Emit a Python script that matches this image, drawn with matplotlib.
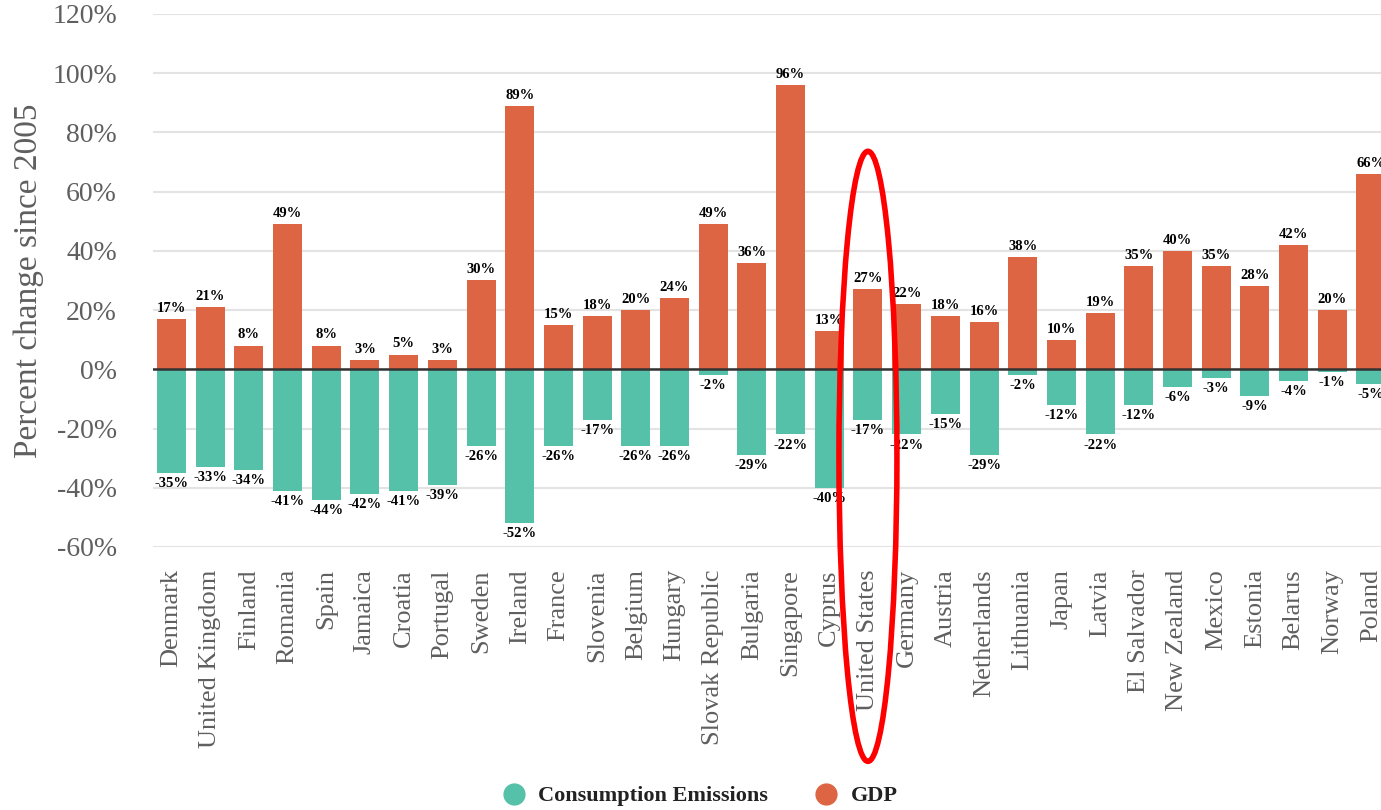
import matplotlib
matplotlib.use("Agg")
import matplotlib.pyplot as plt
from matplotlib.patches import Ellipse
from matplotlib.lines import Line2D

countries = ["Denmark", "United Kingdom", "Finland", "Romania", "Spain", "Jamaica",
             "Croatia", "Portugal", "Sweden", "Ireland", "France", "Slovenia",
             "Belgium", "Hungary", "Slovak Republic", "Bulgaria", "Singapore",
             "Cyprus", "United States", "Germany", "Austria", "Netherlands",
             "Lithuania", "Japan", "Latvia", "El Salvador", "New Zealand",
             "Mexico", "Estonia", "Belarus", "Norway", "Poland"]
gdp = [17, 21, 8, 49, 8, 3, 5, 3, 30, 89, 15, 18, 20, 24, 49, 36, 96, 13, 27, 22,
       18, 16, 38, 10, 19, 35, 40, 35, 28, 42, 20, 66]
emissions = [-35, -33, -34, -41, -44, -42, -41, -39, -26, -52, -26, -17, -26, -26,
             -2, -29, -22, -40, -17, -22, -15, -29, -2, -12, -22, -12, -6, -3, -9,
             -4, -1, -5]
yticks = [-60, -40, -20, 0, 20, 40, 60, 80, 100, 120]

GDP_COLOR = "#DD6543"
EM_COLOR = "#55C1A9"
GRAY = "#5f5f5f"

plt.rcParams["font.family"] = ["Liberation Serif", "DejaVu Serif"]

fig = plt.figure(figsize=(13.81, 8.10), dpi=100)
ax = fig.add_axes([153 / 1381, 1 - 547 / 810, 1 - 153 / 1381, (547 - 14) / 810])

x = list(range(len(countries)))
ax.bar(x, gdp, width=0.75, color=GDP_COLOR, zorder=2)
ax.bar(x, emissions, width=0.75, color=EM_COLOR, zorder=2)

for i in x:
    ax.annotate(f"{gdp[i]}%", (i, gdp[i]), xytext=(0, 3), textcoords="offset points",
                ha="center", va="bottom", fontsize=10.5, fontweight="bold", zorder=4)
    ax.annotate(f"{emissions[i]}%", (i, emissions[i]), xytext=(0, -3),
                textcoords="offset points", ha="center", va="top", fontsize=10.5,
                fontweight="bold", zorder=4)

ax.axhline(0, color="#333333", lw=1.8, zorder=3)
ax.set_xlim(-0.478, 31.26)
ax.set_ylim(-60, 120)
ax.set_yticks(yticks)
ax.set_yticklabels([f"{v}%" for v in yticks])
ax.yaxis.grid(True, color="#e3e3e3", lw=1.5, zorder=0)
ax.set_axisbelow(True)
ax.set_xticks(x)
ax.set_xticklabels(countries, rotation=90)
ax.tick_params(axis="y", length=0, pad=26, labelsize=20, labelcolor=GRAY)
ax.tick_params(axis="x", length=0, pad=16, labelsize=19, labelcolor=GRAY)
for s in ax.spines.values():
    s.set_visible(False)
ax.set_ylabel("Percent change since 2005", fontsize=24, color=GRAY, labelpad=6)

# highlight the United States column
us = countries.index("United States")
ppy = (547 - 14) / 180.0
ell = Ellipse((us, (369 - 456) / ppy), width=58 / 38.7, height=610 / ppy,
              fill=False, edgecolor="#ff0000", lw=4, clip_on=False, zorder=5)
ax.add_patch(ell)

handles = [Line2D([], [], marker="o", ls="", ms=15, color=EM_COLOR),
           Line2D([], [], marker="o", ls="", ms=15, color=GDP_COLOR)]
leg = fig.legend(handles, ["Consumption Emissions", "GDP"], loc="center",
                 bbox_to_anchor=(0.503, 1 - 796 / 810), ncol=2, frameon=False,
                 prop={"size": 16, "weight": "bold"}, handletextpad=0.1,
                 columnspacing=1.6)
for t in leg.get_texts():
    t.set_color("#222222")

fig.savefig("out.png", dpi=100)
